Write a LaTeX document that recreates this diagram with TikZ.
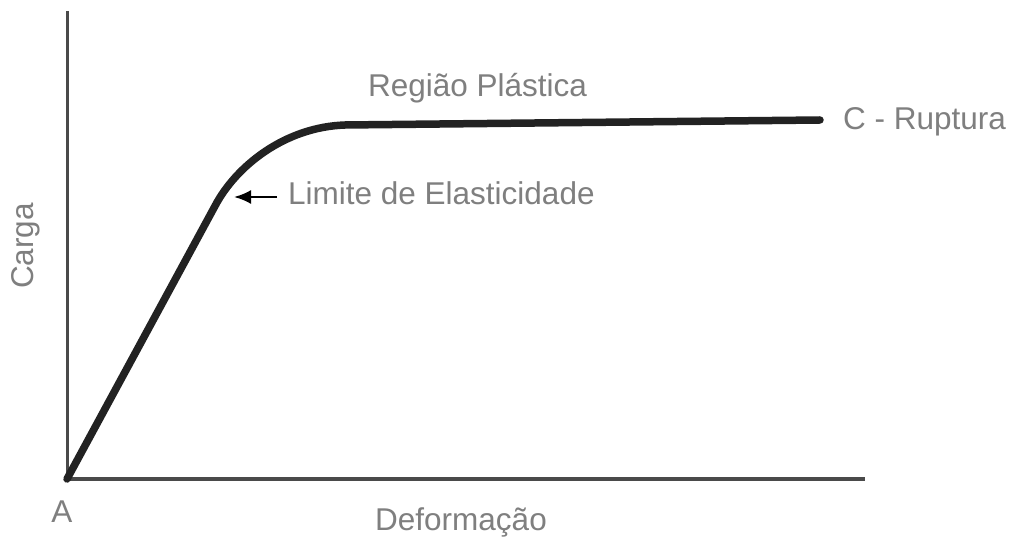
\documentclass[tikz,border=0pt]{standalone}
\usepackage{fontspec}
\setmainfont{Liberation Sans}
\usetikzlibrary{arrows.meta}
\definecolor{labelgray}{HTML}{7F7F7F}
\definecolor{axisgray}{HTML}{4A4A4A}
\definecolor{curvecol}{HTML}{222222}
\tikzset{
  lbl/.style={text=labelgray, font=\fontsize{31.5}{36}\selectfont, inner sep=0pt},
  axisline/.style={draw=axisgray, line width=3pt},
  curveline/.style={draw=curvecol, line width=7.5pt, line cap=round, line join=round},
  pointer/.style={draw=black, line width=2.4pt, -{Latex[length=17pt,width=14pt]}}
}
\begin{document}
\begin{tikzpicture}[x=1pt,y=-1pt]
\useasboundingbox[fill=white] (0,0) rectangle (1013,537);
% axes
\coordinate (O) at (67,479);
\coordinate (ytop) at (67,11);
\coordinate (xend) at (865,479);
\draw[axisline] (ytop) -- (O) -- (xend);
% curve
\coordinate (knee) at (215,206);
\coordinate (plas) at (345,125);
\coordinate (rup) at (820,120);
\draw[curveline] (O) -- (knee) .. controls (236,166) and (285,127) .. (plas) -- (rup);
% labels
\node[lbl, anchor=base west] (regiao) at (368,97) {Região Plástica};
\node[lbl, anchor=base west] (ruptura) at (843,130) {C - Ruptura};
\node[lbl, anchor=base west, inner xsep=11pt] (limite) at (277,205) {Limite de Elasticidade};
\node[lbl, anchor=base, rotate=90] (carga) at (33,246) {Carga};
\node[lbl, anchor=base] (deform) at (461,530) {Deformação};
\node[lbl, anchor=base] (A) at (62,522) {A};
% arrow
\coordinate (limpt) at (234,197);
\draw[pointer] (limite.west |- limpt) -- (limpt);
\end{tikzpicture}
\end{document}
